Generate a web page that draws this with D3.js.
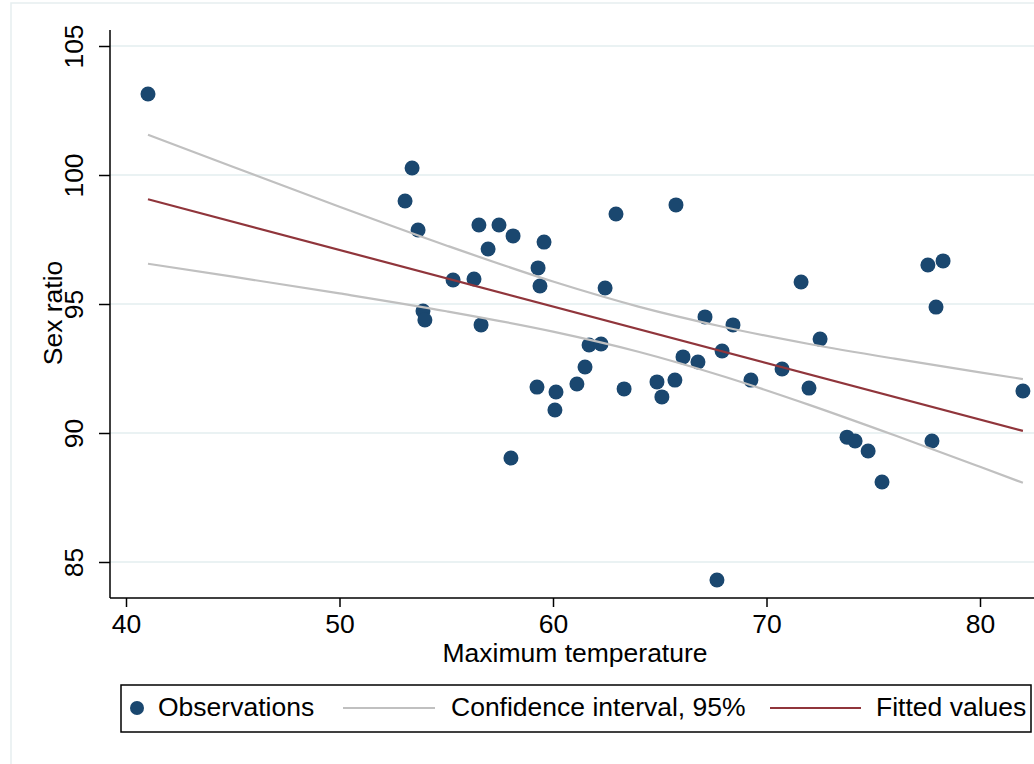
<!DOCTYPE html>
<html>
<head>
<meta charset="utf-8">
<script src="https://cdn.jsdelivr.net/npm/d3@7"></script>
<style>
  body { margin: 0; background: #fff; }
  text { font-family: "Liberation Sans", Arial, sans-serif; fill: #000; }
</style>
</head>
<body>
<div class="chart"></div>
<script>
const svgWidth = 1034
const svgHeight = 764

// observations: maximum temperature vs sex ratio
const maxTemp = [41.03, 53.40, 53.07, 53.68, 53.91, 54.00, 55.32, 56.30, 56.53, 57.47,
  56.96, 58.13, 56.63, 59.30, 59.39, 59.58, 58.03, 59.25, 60.14, 60.09,
  61.12, 61.50, 61.69, 62.25, 62.44, 62.95, 63.33, 64.87, 65.10, 65.71,
  65.76, 66.09, 66.79, 67.12, 67.68, 67.92, 68.43, 69.27, 70.73, 71.62,
  71.99, 72.51, 73.77, 74.15, 74.76, 75.41, 77.56, 78.27, 77.94, 77.75, 82.01]
const sexRatio = [103.14, 100.27, 98.99, 97.87, 94.73, 94.38, 95.93, 95.97, 98.06, 98.06,
  97.13, 97.64, 94.19, 96.40, 95.70, 97.40, 89.03, 91.78, 91.59, 90.89,
  91.90, 92.56, 93.41, 93.45, 95.62, 98.49, 91.71, 91.98, 91.40, 92.05,
  98.84, 92.95, 92.75, 94.50, 84.30, 93.18, 94.19, 92.05, 92.48, 95.85,
  91.74, 93.64, 89.84, 89.69, 89.30, 88.10, 96.51, 96.67, 94.88, 89.69, 91.63]

// fitted line and 95% confidence band
const fitX = [41.03, 82.01]
const fitY = [99.06, 90.08]
const ciX = [41.03, 45, 50, 55, 60, 64, 68, 72, 76, 80, 82.01]
const ciUpper = [101.56, 100.32, 98.77, 97.27, 95.87, 94.90, 94.11, 93.45, 92.88, 92.35, 92.09]
const ciLower = [96.56, 96.06, 95.41, 94.72, 93.93, 93.15, 92.19, 91.09, 89.91, 88.69, 88.07]

const xTicks = [40, 50, 60, 70, 80]
const yTicks = [85, 90, 95, 100, 105]

const navy = "#1a476f"
const maroon = "#90353b"
const ciGray = "#c0c0c0"
const gridColor = "#eaf2f3"
const fontSize = 26.5

// plot frame
let plot = { left: 110, right: 1034, top: 30, bottom: 598 }

let svg = d3
  .select(".chart")
  .append("svg")
  .attr("width", svgWidth)
  .attr("height", svgHeight)

// outer graph region border (cropped)
svg.append("rect")
  .attr("x", 11)
  .attr("y", 3)
  .attr("width", svgWidth + 20)
  .attr("height", svgHeight + 20)
  .attr("fill", "none")
  .attr("stroke", "#e6eef0")
  .attr("stroke-width", 1.5)

let x = d3.scaleLinear().domain([40, 80]).range([126, 980])
let y = d3.scaleLinear().domain([85, 105]).range([562, 46])

// gridlines
svg.append("g")
  .selectAll("line")
  .data(yTicks)
  .enter()
  .append("line")
  .attr("x1", plot.left)
  .attr("x2", plot.right)
  .attr("y1", d => y(d))
  .attr("y2", d => y(d))
  .attr("stroke", gridColor)
  .attr("stroke-width", 2)

// axes
let bottomAxis = d3.axisBottom(x).tickValues(xTicks).tickSize(9).tickFormat(d3.format("d"))
let leftAxis = d3.axisLeft(y).tickValues(yTicks).tickSize(11).tickFormat(d3.format("d"))

let xAxis = svg.append("g")
  .attr("transform", `translate(0, ${plot.bottom})`)
  .call(bottomAxis)
xAxis.select(".domain").remove()
xAxis.selectAll("line").attr("stroke", "#000").attr("stroke-width", 1.5)
xAxis.selectAll("text")
  .attr("y", 35)
  .attr("dy", 0)
  .style("font-size", fontSize + "px")
  .style("font-family", "Liberation Sans, Arial, sans-serif")
  .attr("fill", "#000")

let yAxis = svg.append("g")
  .attr("transform", `translate(${plot.left}, 0)`)
  .call(leftAxis)
yAxis.select(".domain").remove()
yAxis.selectAll("line").attr("stroke", "#000").attr("stroke-width", 1.5)
yAxis.selectAll("text")
  .attr("x", 0)
  .attr("dy", 0)
  .attr("text-anchor", "middle")
  .attr("transform", "translate(-27, 0) rotate(-90)")
  .style("font-size", fontSize + "px")
  .style("font-family", "Liberation Sans, Arial, sans-serif")
  .attr("fill", "#000")
// rotate labels about their tick position
yAxis.selectAll(".tick text")
  .attr("transform", "translate(-27, 0) rotate(-90)")

// axis lines
svg.append("line")
  .attr("x1", plot.left).attr("x2", plot.right)
  .attr("y1", plot.bottom).attr("y2", plot.bottom)
  .attr("stroke", "#000").attr("stroke-width", 1.5)
svg.append("line")
  .attr("x1", plot.left).attr("x2", plot.left)
  .attr("y1", plot.top).attr("y2", plot.bottom)
  .attr("stroke", "#000").attr("stroke-width", 1.5)

// axis titles
svg.append("text")
  .attr("x", 575)
  .attr("y", 662)
  .attr("text-anchor", "middle")
  .style("font-size", fontSize + "px")
  .text("Maximum temperature")

svg.append("text")
  .attr("transform", "translate(62, 313) rotate(-90)")
  .attr("text-anchor", "middle")
  .style("font-size", fontSize + "px")
  .text("Sex ratio")

// points
svg.append("g")
  .selectAll("circle")
  .data(maxTemp.map((t, i) => [t, sexRatio[i]]))
  .enter()
  .append("circle")
  .attr("cx", d => x(d[0]))
  .attr("cy", d => y(d[1]))
  .attr("r", 7.5)
  .attr("fill", navy)

// confidence band lines
let ciLine = d3.line()
  .x(d => x(d[0]))
  .y(d => y(d[1]))
  .curve(d3.curveMonotoneX)

svg.append("path")
  .datum(ciX.map((v, i) => [v, ciUpper[i]]))
  .attr("d", ciLine)
  .attr("fill", "none")
  .attr("stroke", ciGray)
  .attr("stroke-width", 2.2)

svg.append("path")
  .datum(ciX.map((v, i) => [v, ciLower[i]]))
  .attr("d", ciLine)
  .attr("fill", "none")
  .attr("stroke", ciGray)
  .attr("stroke-width", 2.2)

// fitted values
svg.append("path")
  .datum(fitX.map((v, i) => [v, fitY[i]]))
  .attr("d", d3.line().x(d => x(d[0])).y(d => y(d[1])))
  .attr("fill", "none")
  .attr("stroke", maroon)
  .attr("stroke-width", 2.2)

// legend
let legend = svg.append("g")
legend.append("rect")
  .attr("x", 121)
  .attr("y", 685)
  .attr("width", 910)
  .attr("height", 47)
  .attr("fill", "#fff")
  .attr("stroke", "#000")
  .attr("stroke-width", 1.5)

legend.append("circle")
  .attr("cx", 137).attr("cy", 708).attr("r", 7)
  .attr("fill", navy)
legend.append("text")
  .attr("x", 158).attr("y", 716)
  .style("font-size", fontSize + "px")
  .text("Observations")

legend.append("line")
  .attr("x1", 343).attr("x2", 435)
  .attr("y1", 708).attr("y2", 708)
  .attr("stroke", ciGray).attr("stroke-width", 2.2)
legend.append("text")
  .attr("x", 451).attr("y", 716)
  .style("font-size", fontSize + "px")
  .text("Confidence interval, 95%")

legend.append("line")
  .attr("x1", 770).attr("x2", 861)
  .attr("y1", 708).attr("y2", 708)
  .attr("stroke", maroon).attr("stroke-width", 2.2)
legend.append("text")
  .attr("x", 876).attr("y", 716)
  .style("font-size", fontSize + "px")
  .text("Fitted values")
</script>
</body>
</html>
